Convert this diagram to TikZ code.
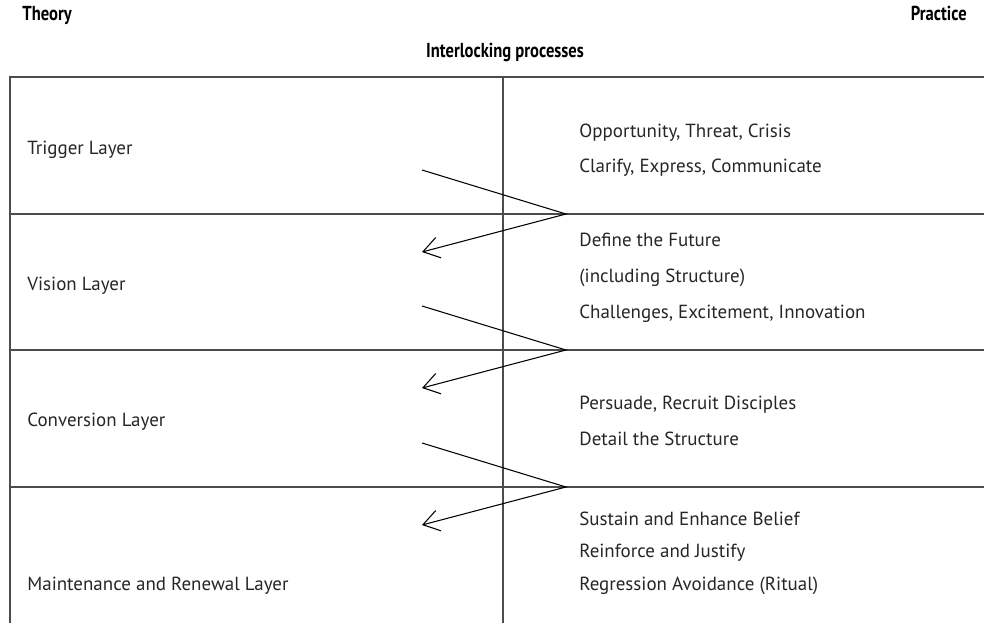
\documentclass[tikz,border=0pt]{standalone}
\usepackage{fontspec}
\setmainfont{PT Sans}
\usetikzlibrary{arrows.meta}
\tikzset{>={Straight Barb[length=3.2mm,width=4.2mm]}}

\begin{document}
\begin{tikzpicture}[x=0.02cm, y=-0.02cm,
  rule/.style={line width=0.8pt, black!70},
  head/.style={font=\bfseries\fontsize{11.5}{13}\selectfont, anchor=base west, inner sep=0pt},
  layer/.style={font=\fontsize{10.8}{13}\selectfont, anchor=base west, inner sep=0pt, black!85},
  flow/.style={line width=0.6pt, ->}]
\useasboundingbox (0,0) rectangle (984,623);

% headings
\node[head] (theory) at (22,20) {\scalebox{0.82}[1]{Theory}};
\node[head, anchor=base east] (practice) at (967,20) {\scalebox{0.82}[1]{Practice}};
\node[head, anchor=base] (interlock) at (505,57) {\scalebox{0.82}[1]{Interlocking processes}};

% table frame
\draw[rule] (10,623) -- (10,77) -- (984,77);
\draw[rule] (503,77) -- (503,623);
\foreach \y in {214,350,487}
  \draw[rule] (10,\y) -- (984,\y);

% theory side
\node[layer] (trigger) at (27,154) {Trigger Layer};
\node[layer] (vision) at (27,290) {Vision Layer};
\node[layer] (conversion) at (27,426) {Conversion Layer};
\node[layer] (maintenance) at (27,590) {Maintenance and Renewal Layer};

% practice side
\node[layer] (opp) at (579,137) {Opportunity, Threat, Crisis};
\node[layer] (clar) at (579,172) {Clarify, Express, Communicate};
\node[layer] (future) at (579,246) {Define the Future};
\node[layer] (incl) at (579,282) {(including Structure)};
\node[layer] (chall) at (579,318) {Challenges, Excitement, Innovation};
\node[layer] (pers) at (579,409) {Persuade, Recruit Disciples};
\node[layer] (detail) at (579,445) {Detail the Structure};
\node[layer] (sustain) at (579,525) {Sustain and Enhance Belief};
\node[layer] (reinf) at (579,557) {Reinforce and Justify};
\node[layer] (regr) at (579,590) {Regression Avoidance (Ritual)};

% hand-over between layers
\foreach \n/\y in {1/214,2/350,3/487}{
  \coordinate (from\n) at (422,\y-44);
  \coordinate (turn\n) at (566,\y);
  \coordinate (to\n) at (422,\y+38);
  \draw[flow] (from\n) -- (turn\n) -- (to\n);
}
\end{tikzpicture}
\end{document}
